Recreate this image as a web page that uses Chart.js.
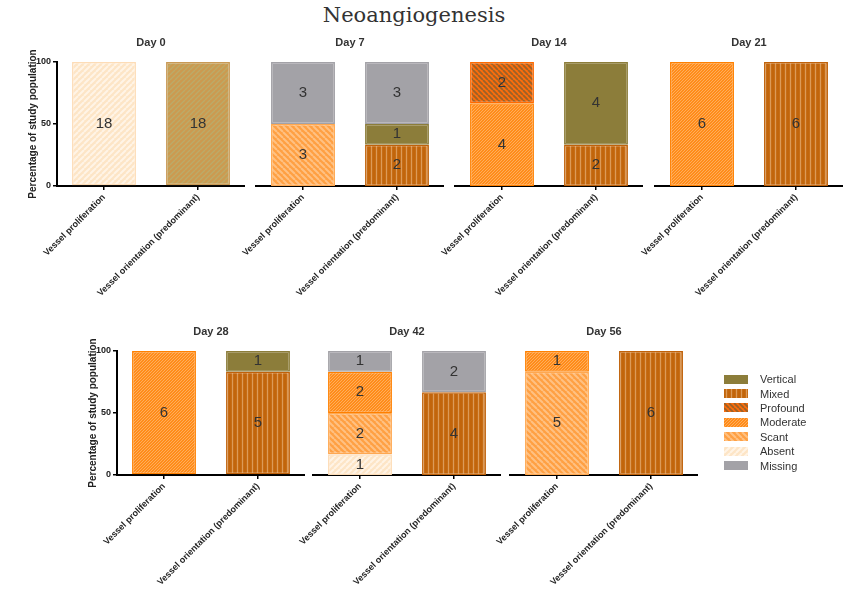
<!DOCTYPE html>
<html>
<head>
    <style>
        body {
            margin: 0;
            background-color: #ffffff;
            font-family: "Liberation Sans", Arial, sans-serif;
        }
        .figure {
            position: relative;
            width: 846px;
            height: 592px;
            overflow: hidden;
        }
        .main-title {
            position: absolute;
            left: 0;
            width: 828px;
            top: 3px;
            text-align: center;
            font-family: "DejaVu Serif", serif;
            font-size: 21px;
            color: #333;
        }
        .panel {
            position: absolute;
        }
        .legend {
            position: absolute;
            left: 724px;
            top: 372px;
        }
        .legend-row {
            display: flex;
            align-items: center;
            height: 14.4px;
            font-size: 11px;
            color: #333;
        }
        .legend-row canvas {
            margin-right: 12px;
        }
    </style>
    <script src="https://cdn.jsdelivr.net/npm/chart.js"></script>
</head>
<body>
<div class="figure" id="figure">
    <div class="main-title">Neoangiogenesis</div>
    <div class="legend" id="legend"></div>
</div>
<script>
    // Panels and the two bars in each panel
    const days = ['Day 0', 'Day 7', 'Day 14', 'Day 21', 'Day 28', 'Day 42', 'Day 56'];
    const categories = ['Vessel proliferation', 'Vessel orientation (predominant)'];

    // Number of animals per grade, per day: [proliferation, orientation]
    const absent    = [[18, 0], [0, 0], [0, 0], [0, 0], [0, 0], [1, 0], [0, 0]];
    const notScored = [[0, 18], [0, 0], [0, 0], [0, 0], [0, 0], [0, 0], [0, 0]];
    const scant     = [[0, 0], [3, 0], [0, 0], [0, 0], [0, 0], [2, 0], [5, 0]];
    const moderate  = [[0, 0], [0, 0], [4, 0], [6, 0], [6, 0], [2, 0], [1, 0]];
    const profound  = [[0, 0], [0, 0], [2, 0], [0, 0], [0, 0], [0, 0], [0, 0]];
    const mixed     = [[0, 0], [0, 2], [0, 2], [0, 6], [0, 5], [0, 4], [0, 6]];
    const vertical  = [[0, 0], [0, 1], [0, 4], [0, 0], [0, 1], [0, 0], [0, 0]];
    const missing   = [[0, 0], [3, 3], [0, 0], [0, 0], [0, 0], [1, 2], [0, 0]];

    const yTicks = [0, 50, 100];

    // plot area position of each panel (left edge, top edge)
    const panelPos = [
        {left: 57, top: 62}, {left: 256, top: 62}, {left: 455, top: 62}, {left: 655, top: 62},
        {left: 117, top: 351}, {left: 313, top: 351}, {left: 510, top: 351}
    ];
    const plotW = 186, plotH = 124, yAxisW = 57, xAxisH = 120, titleH = 32;

    Chart.defaults.font.family = '"Liberation Sans", Arial, sans-serif';
    Chart.defaults.color = '#222';

    // small repeating fill patterns for the hatched grades
    function makePattern(bg, fg, dir, s, lw) {
        const c = document.createElement('canvas');
        c.width = s;
        c.height = s;
        const x = c.getContext('2d');
        x.fillStyle = bg;
        x.fillRect(0, 0, s, s);
        x.strokeStyle = fg;
        x.lineWidth = lw;
        x.beginPath();
        for (let k = -1; k <= 1; k++) {
            if (dir === 'up') {
                x.moveTo(k * s, s);
                x.lineTo(k * s + s, 0);
            } else if (dir === 'down') {
                x.moveTo(k * s, 0);
                x.lineTo(k * s + s, s);
            }
        }
        if (dir === 'vert') {
            x.moveTo(s / 2, 0);
            x.lineTo(s / 2, s);
        }
        x.stroke();
        return x.createPattern(c, 'repeat');
    }

    // bottom to top stacking order
    const grades = [
        {name: 'Absent', counts: absent, fill: () => makePattern('#fde5c6', '#fff4e6', 'up', 6, 2), border: '#fddcb6'},
        {name: 'Not scored', counts: notScored, fill: () => makePattern('#cc9a50', '#bcaa68', 'up', 5, 1.4), border: '#c89a55'},
        {name: 'Scant', counts: scant, fill: () => makePattern('#ffa043', '#ffc183', 'down', 6, 2), border: '#ffa850'},
        {name: 'Moderate', counts: moderate, fill: () => makePattern('#ff8c1a', '#ffad5c', 'up', 3, 1), border: '#ff8000'},
        {name: 'Profound', counts: profound, fill: () => makePattern('#fb6d0d', '#9a6228', 'down', 5, 1.8), border: '#ff6a00'},
        {name: 'Mixed', counts: mixed, fill: () => makePattern('#c2650b', '#dc9a58', 'vert', 5, 1.3), border: '#c0620a'},
        {name: 'Vertical', counts: vertical, fill: () => '#8c7d3a', border: '#8c7d3a'},
        {name: 'Missing', counts: missing, fill: () => '#a3a2a7', border: '#a3a2a7'}
    ];
    const legendOrder = ['Vertical', 'Mixed', 'Profound', 'Moderate', 'Scant', 'Absent', 'Missing'];

    // writes the count in the middle of each segment
    const countLabels = {
        id: 'countLabels',
        afterDatasetsDraw(chart) {
            const ctx = chart.ctx;
            ctx.save();
            ctx.font = '15px "Liberation Sans", Arial, sans-serif';
            ctx.fillStyle = '#333';
            ctx.textAlign = 'center';
            ctx.textBaseline = 'middle';
            chart.data.datasets.forEach((ds, i) => {
                chart.getDatasetMeta(i).data.forEach((bar, j) => {
                    const n = ds.counts[j];
                    if (!n) return;
                    ctx.fillText(String(n), bar.x, (bar.y + bar.base) / 2);
                });
            });
            ctx.restore();
        }
    };

    const fig = document.getElementById('figure');

    days.forEach((day, d) => {
        const firstInRow = (d === 0 || d === 4);
        const pos = panelPos[d];
        const canvas = document.createElement('canvas');
        canvas.className = 'panel';
        canvas.width = yAxisW + plotW + 2;
        canvas.height = titleH + plotH + xAxisH;
        canvas.style.left = (pos.left - yAxisW) + 'px';
        canvas.style.top = (pos.top - titleH) + 'px';
        fig.appendChild(canvas);

        const totals = categories.map((c, j) => grades.reduce((s, g) => s + g.counts[d][j], 0));

        const datasets = grades.map(g => ({
            label: g.name,
            counts: g.counts[d],
            data: g.counts[d].map((n, j) => n ? n / totals[j] * 100 : null),
            backgroundColor: g.fill(),
            borderColor: g.border,
            borderWidth: 1.5,
            borderSkipped: false,
            categoryPercentage: 1,
            barPercentage: 0.68
        }));

        new Chart(canvas.getContext('2d'), {
            type: 'bar',
            data: {labels: categories, datasets: datasets},
            plugins: [countLabels],
            options: {
                responsive: false,
                animation: false,
                layout: {padding: 0},
                plugins: {
                    legend: {display: false},
                    tooltip: {enabled: false},
                    title: {
                        display: true,
                        fullSize: false,
                        text: day,
                        color: '#333',
                        font: {size: 11, weight: 'bold'},
                        padding: {top: 6, bottom: titleH - 6 - 13.2}
                    }
                },
                scales: {
                    x: {
                        stacked: true,
                        grid: {display: true, drawOnChartArea: false, drawTicks: true, tickLength: 4, offset: false, color: '#000', lineWidth: 1.5},
                        border: {display: true, color: '#000', width: 2},
                        ticks: {
                            autoSkip: false,
                            minRotation: 45,
                            maxRotation: 45,
                            padding: 2,
                            color: '#222',
                            font: {size: 9, weight: 'bold'}
                        },
                        afterFit: s => { s.height = xAxisH; }
                    },
                    y: {
                        stacked: true,
                        min: yTicks[0],
                        max: yTicks[yTicks.length - 1],
                        afterBuildTicks: s => { s.ticks = yTicks.map(v => ({value: v})); },
                        grid: {display: firstInRow, drawOnChartArea: false, drawTicks: true, tickLength: 4, color: '#000', lineWidth: 1.5},
                        border: {display: firstInRow, color: '#000', width: 2},
                        ticks: {display: firstInRow, padding: 2, color: '#222', font: {size: 9, weight: 'bold'}},
                        title: {
                            display: firstInRow,
                            text: 'Percentage of study population',
                            color: '#222',
                            font: {size: 10, weight: 'bold'},
                            padding: {top: 27, bottom: 0}
                        },
                        afterFit: s => { s.width = yAxisW; }
                    }
                }
            }
        });
    });

    // legend with the same fills
    const legend = document.getElementById('legend');
    legendOrder.forEach(name => {
        const g = grades.find(x => x.name === name);
        const row = document.createElement('div');
        row.className = 'legend-row';
        const sw = document.createElement('canvas');
        sw.width = 24;
        sw.height = 9;
        const sctx = sw.getContext('2d');
        sctx.fillStyle = g.fill();
        sctx.fillRect(0, 0, 24, 9);
        const label = document.createElement('span');
        label.textContent = name;
        row.appendChild(sw);
        row.appendChild(label);
        legend.appendChild(row);
    });
</script>
</body>
</html>
